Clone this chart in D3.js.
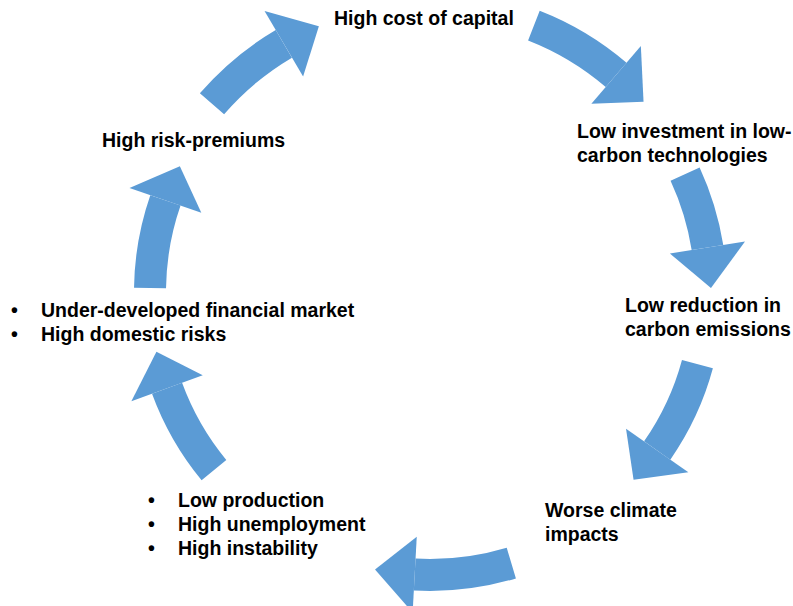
<!DOCTYPE html>
<html>
<head>
    <meta charset="utf-8">
    <script src="https://d3js.org/d3.v7.min.js"></script>
    <style>
        body { margin: 0; background: #fff; }
        .label {
            font-family: 'Liberation Sans', Arial, sans-serif;
            font-weight: bold;
            font-size: 19.5px;
            fill: #000;
        }
    </style>
</head>
<body>
<svg id="cycle" width="793" height="606"></svg>

<script>
    // stages of the cycle, clockwise from the top
    const stageLines = [
        ["High cost of capital"],
        ["Low investment in low-", "carbon technologies"],
        ["Low reduction in", "carbon emissions"],
        ["Worse climate", "impacts"],
        ["Low production", "High unemployment", "High instability"],
        ["Under-developed financial market", "High domestic risks"],
        ["High risk-premiums"]
    ];
    const stageBullets = [false, false, false, false, true, true, false];

    // arrows between stages: angles in degrees (0 = east, clockwise)
    const arrowTail = [-139.2, -68.7, -24.8, 15.1, 73.3, 140.5, 180.8];
    const arrowHead = [-120.5, -49.4, -9.1, 34.9, 93.1, 159.9, 199.1];
    const arrowTip  = [-112.7, -41.7, -0.8, 42.7, 101.2, 167.7, 206.7];
    const arrowRadius = [288, 286, 281, 277, 283, 280, 280];

    // layout
    const cx = 430, cy = 292;
    const bodyW = 32, headW = 76;
    const lineH = 24;
    const labelPos = [
        [334, 25], [577, 138], [625, 312], [545, 517],
        [178, 507], [41, 317], [102, 147]
    ];
    const bulletGap = 30;

    const svg = d3.select("#cycle");
    const rad = d3.scaleLinear().domain([0, 180]).range([0, Math.PI]);
    const polar = (r, a) => [cx + r * Math.cos(rad(a)), cy + r * Math.sin(rad(a))];

    const arrows = svg.append("g").attr("class", "arrows");

    arrowTail.forEach((a0, i) => {
        const r = arrowRadius[i];
        const body = d3.arc()
            .innerRadius(r - bodyW / 2)
            .outerRadius(r + bodyW / 2)
            .startAngle(rad(a0 + 90))
            .endAngle(rad(arrowHead[i] + 90));

        arrows.append("path")
            .attr("transform", `translate(${cx},${cy})`)
            .attr("d", body())
            .attr("fill", "#5b9bd5");

        const head = [
            polar(r - headW / 2, arrowHead[i]),
            polar(r + headW / 2, arrowHead[i]),
            polar(r, arrowTip[i])
        ];
        arrows.append("path")
            .attr("d", d3.line()(head) + "Z")
            .attr("fill", "#5b9bd5");
    });

    const labels = svg.append("g").attr("class", "labels");

    stageLines.forEach((lines, i) => {
        const [x, y] = labelPos[i];
        lines.forEach((t, j) => {
            if (stageBullets[i]) {
                labels.append("text")
                    .attr("class", "label")
                    .attr("x", x - bulletGap)
                    .attr("y", y + j * lineH)
                    .text("•");
            }
            labels.append("text")
                .attr("class", "label")
                .attr("x", x)
                .attr("y", y + j * lineH)
                .text(t);
        });
    });
</script>
</body>
</html>
